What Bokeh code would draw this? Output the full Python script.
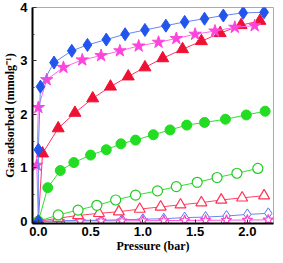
from bokeh.plotting import figure
from bokeh.models import FixedTicker, PrintfTickFormatter, Range1d
from bokeh.embed import file_html
from bokeh.resources import INLINE

# Filled blue diamonds
bd_x = [0.0, 0.0, 0.02, 0.15, 0.32, 0.47, 0.65, 0.83, 1.02, 1.22, 1.40, 1.59, 1.77, 1.96, 2.16]
bd_y = [0.0, 1.34, 2.52, 2.97, 3.19, 3.30, 3.40, 3.50, 3.58, 3.66, 3.73, 3.79, 3.85, 3.90, 3.91]
# Filled magenta stars
ms_x = [0.0, -0.015, 0.0, 0.08, 0.24, 0.42, 0.60, 0.78, 0.96, 1.15, 1.32, 1.50, 1.69, 1.88, 2.07]
ms_y = [0.0, 1.05, 2.13, 2.65, 2.88, 3.02, 3.10, 3.19, 3.28, 3.35, 3.42, 3.50, 3.56, 3.63, 3.66]
# Filled red triangles
rt_x = [0.0, 0.04, 0.19, 0.35, 0.52, 0.69, 0.86, 1.02, 1.19, 1.38, 1.56, 1.74, 1.94, 2.12]
rt_y = [0.0, 1.27, 1.74, 2.03, 2.30, 2.52, 2.71, 2.88, 3.05, 3.22, 3.37, 3.52, 3.67, 3.75]
# Filled green circles
gc_x = [0.0, 0.09, 0.21, 0.34, 0.50, 0.65, 0.79, 0.93, 1.10, 1.26, 1.42, 1.59, 1.79, 1.99, 2.17]
gc_y = [0.0, 0.63, 0.95, 1.10, 1.24, 1.34, 1.45, 1.52, 1.62, 1.71, 1.80, 1.85, 1.91, 1.99, 2.06]
# Open green circles
go_x = [0.0, 0.19, 0.38, 0.56, 0.74, 0.93, 1.14, 1.32, 1.52, 1.71, 1.90, 2.10]
go_y = [0.0, 0.12, 0.21, 0.30, 0.40, 0.49, 0.57, 0.65, 0.73, 0.82, 0.90, 0.99]
# Open red triangles
ro_x = [0.0, 0.19, 0.38, 0.58, 0.77, 0.97, 1.17, 1.36, 1.56, 1.75, 1.95, 2.16]
ro_y = [0.0, 0.06, 0.11, 0.15, 0.18, 0.23, 0.27, 0.31, 0.35, 0.40, 0.44, 0.48]
# Open blue diamonds
bo_x = [0.0, 0.2, 0.4, 0.6, 0.8, 1.0, 1.2, 1.4, 1.6, 1.8, 2.0, 2.2]
bo_y = [0.0, 0.01, 0.02, 0.02, 0.03, 0.04, 0.05, 0.07, 0.08, 0.10, 0.13, 0.15]
# Open magenta stars
mo_x = [0.0, 0.2, 0.4, 0.6, 0.8, 1.0, 1.2, 1.4, 1.6, 1.8, 2.0, 2.2]
mo_y = [0.0, 0.005, 0.008, 0.01, 0.01, 0.012, 0.015, 0.017, 0.02, 0.022, 0.025, 0.028]

x_ticks = [0.0, 0.5, 1.0, 1.5, 2.0]
x_minor = [0.25, 0.75, 1.25, 1.75]
y_ticks = [0, 1, 2, 3, 4]
y_minor = [0.5, 1.5, 2.5, 3.5]

p = figure(width=275, height=255, output_backend="svg", toolbar_location=None,
           x_range=Range1d(-0.056, 2.25), y_range=Range1d(-0.04, 4.0),
           min_border_top=7, min_border_left=31, min_border_right=2, min_border_bottom=30)
p.background_fill_color = "white"
p.border_fill_color = "white"
p.xgrid.visible = False
p.ygrid.visible = False
p.outline_line_color = "#aaaaaa"
p.outline_line_width = 1

# Open series (drawn first)
p.line(mo_x, mo_y, line_color="#ff55dd", line_width=1)
p.line(bo_x, bo_y, line_color="#6688ee", line_width=1)
p.line(ro_x, ro_y, line_color="#ff4466", line_width=1)
p.line(go_x, go_y, line_color="#33dd33", line_width=1)
p.scatter(bo_x, bo_y, marker="diamond", size=11, fill_color="white", line_color="#5577ee", line_width=1)
p.scatter(mo_x, mo_y, marker="star", size=11, fill_color="white", line_color="#ff44cc", line_width=1.2)
p.scatter(ro_x, ro_y, marker="triangle", size=11, fill_color="white", line_color="#ff3355", line_width=1.2)
p.scatter(go_x, go_y, marker="circle", size=10, fill_color="white", line_color="#22cc22", line_width=1.2)

# Filled series
p.line(gc_x, gc_y, line_color="#33dd33", line_width=1)
p.scatter(gc_x, gc_y, marker="circle", size=10, fill_color="#22dd22", line_color="#22dd22")
p.line(rt_x, rt_y, line_color="#ff3366", line_width=1)
p.scatter(rt_x, rt_y, marker="triangle", size=12, fill_color="#ee1133", line_color="#ee1133")
p.line(ms_x, ms_y, line_color="#ff66ee", line_width=1)
p.scatter(ms_x, ms_y, marker="star", size=13, fill_color="#ff44dd", line_color="#ff44dd")
p.line(bd_x, bd_y, line_color="#6688ee", line_width=1)
p.scatter(bd_x, bd_y, marker="diamond", size=13, fill_color="#2255ee", line_color="#2255ee")

for ax in (p.xaxis[0], p.yaxis[0]):
    ax.axis_line_color = "black"
    ax.axis_line_width = 2
    ax.major_tick_in = 4
    ax.major_tick_out = 0
    ax.minor_tick_in = 2
    ax.minor_tick_out = 0
    ax.major_tick_line_color = "#333333"
    ax.minor_tick_line_color = "#333333"
    ax.major_label_text_font = "Liberation Sans"
    ax.major_label_text_font_style = "bold"
    ax.major_label_text_font_size = "13px"
    ax.major_label_text_color = "black"
    ax.axis_label_text_font = "Liberation Serif"
    ax.axis_label_text_font_style = "bold"
    ax.axis_label_text_font_size = "12px"
    ax.axis_label_text_color = "black"
    ax.axis_label_standoff = 0

p.xaxis.ticker = FixedTicker(ticks=x_ticks, minor_ticks=x_minor)
p.xaxis.formatter = PrintfTickFormatter(format="%.1f")
p.xaxis.major_label_standoff = 3
p.xaxis.axis_label = "Pressure (bar)"
p.yaxis.ticker = FixedTicker(ticks=y_ticks, minor_ticks=y_minor)
p.yaxis.formatter = PrintfTickFormatter(format="%d")
p.yaxis.major_label_standoff = 5
p.yaxis.axis_label = "Gas adsorbed (mmolg\u207b\u00b9)"

open("out.html", "w").write(file_html(p, INLINE))
